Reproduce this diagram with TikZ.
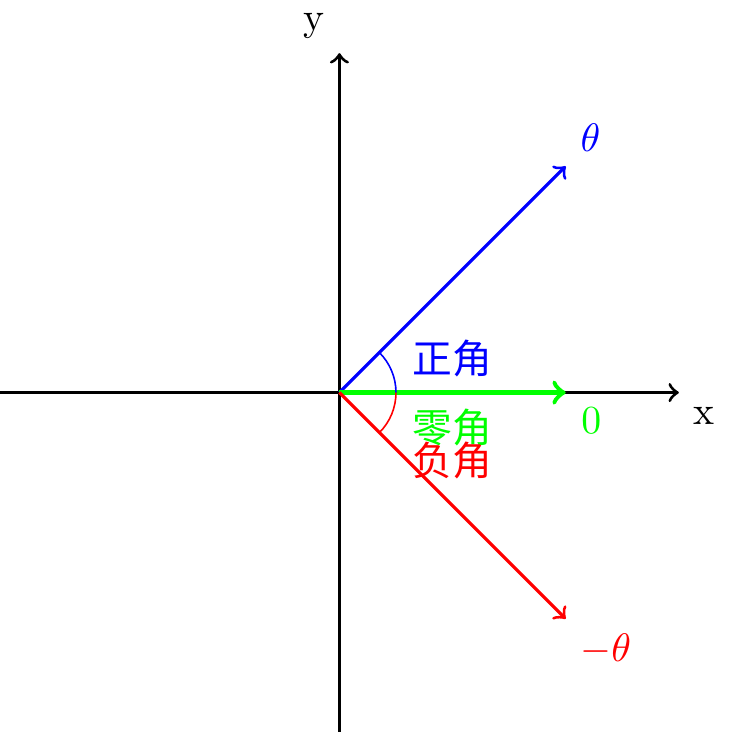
\documentclass[tikz,border=0pt]{standalone}
\usepackage{fontspec}
\usepackage{tikz}
\usetikzlibrary{positioning}
\newfontfamily\cjk{Noto Sans CJK SC}
\tikzstyle{axe} = [thick, black, ->]
\tikzstyle{vect} = [thick, ->]
\tikzstyle{angl} = [thin]

\begin{document}
\begin{tikzpicture}
	\useasboundingbox (-3,-3) rectangle (3.44,3.47);

	% axes
	\coordinate (O) at (0,0);
	\coordinate (xg) at (-3,0);
	\coordinate (xd) at (3,0);
	\coordinate (yb) at (0,-3);
	\coordinate (yh) at (0,3);
	\draw[axe] (xg) -- (xd) node[below right] (xlab) {x};
	\draw[axe] (yb) -- (yh) node[above left] (ylab) {y};

	% vecteurs
	\coordinate (P) at (2,2);
	\coordinate (Z) at (2,0);
	\coordinate (N) at (2,-2);
	\draw[vect, blue] (O) -- (P) node[above right] (tpos) {$\theta$};
	\draw[vect, green, very thick] (O) -- (Z) node[below right] (tzero) {$0$};
	\draw[vect, red] (O) -- (N) node[below right] (tneg) {$-\theta$};

	% arcs
	\draw[angl, blue] (0.5,0) arc (0:45:0.5);
	\draw[angl, red] (0.5,0) arc (0:-45:0.5);

	\node[blue] (zpos) at (1,0.3) {\cjk 正角};
	\node[green] (zzero) at (1,-0.31) {\cjk 零角};
	\node[red] (zneg) at (1,-0.6) {\cjk 负角};
\end{tikzpicture}
\end{document}
